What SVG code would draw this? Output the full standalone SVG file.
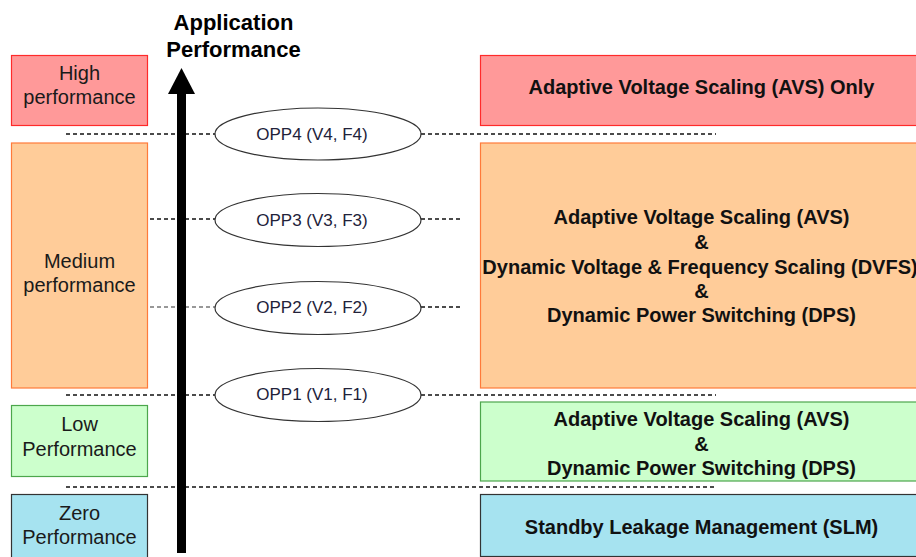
<svg xmlns="http://www.w3.org/2000/svg" width="916" height="557" viewBox="0 0 916 557">
<defs>
<style>
.lt{font-family:"Liberation Sans",Arial,sans-serif;font-size:20px;fill:#1a1a1a;text-anchor:middle}
.rt{font-family:"Liberation Sans",Arial,sans-serif;font-size:20px;font-weight:bold;fill:#111;text-anchor:middle}
.ot{font-family:"Liberation Sans",Arial,sans-serif;font-size:17px;fill:#22223a;text-anchor:middle}
.tt{font-family:"Liberation Sans",Arial,sans-serif;font-size:22px;font-weight:bold;fill:#000;text-anchor:middle}
.dash{stroke:#111;stroke-width:1.3;stroke-dasharray:4 3;fill:none}
.dashg{stroke:#777;stroke-width:1.3;stroke-dasharray:4 3;fill:none}
.opp{fill:#fff;stroke:#333;stroke-width:1.2}
.hi{fill:#ff9999;stroke:#ff2a2a;stroke-width:1.2}
.md{fill:#ffcc99;stroke:#ff7a3a;stroke-width:1.2}
.lo{fill:#ccffcc;stroke:#4ca64c;stroke-width:1.2}
.ze{fill:#a6e3f0;stroke:#333;stroke-width:1.2}
</style>
</defs>
<rect width="916" height="557" fill="#fff"/>
<g id="connectors">
<line class="dash" x1="66" y1="134" x2="215" y2="134"/>
<line class="dash" x1="421" y1="134" x2="716" y2="134"/>
<line class="dash" x1="150" y1="219" x2="215" y2="219"/>
<line class="dash" x1="421" y1="219" x2="463" y2="219"/>
<line class="dashg" x1="150" y1="307" x2="215" y2="307"/>
<line class="dash" x1="421" y1="307" x2="463" y2="307"/>
<line class="dash" x1="66" y1="395" x2="215" y2="395"/>
<line class="dash" x1="421" y1="395" x2="716" y2="395"/>
<line class="dash" x1="66" y1="487" x2="716" y2="487"/>
</g>
<g id="axis">
<rect x="177" y="92" width="9" height="461" fill="#000"/>
<polygon points="181.5,68 195,94 168,94" fill="#000"/>
<text class="tt" x="233.5" y="30">Application</text>
<text class="tt" x="233.5" y="57">Performance</text>
</g>
<g id="left-high"><rect class="hi" x="11.5" y="55.5" width="136" height="70"/>
<text class="lt" x="79.5" y="80">High</text><text class="lt" x="79.5" y="104">performance</text></g>
<g id="left-medium"><rect class="md" x="11.5" y="143" width="136" height="245"/>
<text class="lt" x="79.5" y="268">Medium</text><text class="lt" x="79.5" y="292">performance</text></g>
<g id="left-low"><rect class="lo" x="11.5" y="405.5" width="136" height="71"/>
<text class="lt" x="79.5" y="431">Low</text><text class="lt" x="79.5" y="455.5">Performance</text></g>
<g id="left-zero"><rect class="ze" x="11.5" y="494.5" width="136" height="70"/>
<text class="lt" x="79.5" y="519.5">Zero</text><text class="lt" x="79.5" y="543.5">Performance</text></g>
<g id="opp4"><ellipse class="opp" cx="318" cy="134" rx="103" ry="26"/><text class="ot" x="312" y="140">OPP4 (V4, F4)</text></g>
<g id="opp3"><ellipse class="opp" cx="318" cy="220" rx="103" ry="26.5"/><text class="ot" x="312" y="226">OPP3 (V3, F3)</text></g>
<g id="opp2"><ellipse class="opp" cx="318" cy="308" rx="103" ry="26.5"/><text class="ot" x="312" y="313">OPP2 (V2, F2)</text></g>
<g id="opp1"><ellipse class="opp" cx="318" cy="395" rx="103" ry="26.5"/><text class="ot" x="312" y="400">OPP1 (V1, F1)</text></g>
<g id="right-high"><rect class="hi" x="480.5" y="55.5" width="450" height="70"/>
<text class="rt" x="701.5" y="94">Adaptive Voltage Scaling (AVS) Only</text></g>
<g id="right-medium"><rect class="md" x="480.5" y="143" width="450" height="245"/>
<text class="rt" x="701.5" y="224">Adaptive Voltage Scaling (AVS)</text>
<text class="rt" x="701.5" y="249">&amp;</text>
<text class="rt" x="700" y="273.5">Dynamic Voltage &amp; Frequency Scaling (DVFS)</text>
<text class="rt" x="701.5" y="298">&amp;</text>
<text class="rt" x="701.5" y="322">Dynamic Power Switching (DPS)</text></g>
<g id="right-low"><rect class="lo" x="480.5" y="402" width="450" height="79"/>
<text class="rt" x="701.5" y="426">Adaptive Voltage Scaling (AVS)</text>
<text class="rt" x="701.5" y="451">&amp;</text>
<text class="rt" x="701.5" y="475">Dynamic Power Switching (DPS)</text></g>
<g id="right-zero"><rect class="ze" x="480.5" y="494.5" width="450" height="62"/>
<text class="rt" x="701.5" y="533.5">Standby Leakage Management (SLM)</text></g>
</svg>
